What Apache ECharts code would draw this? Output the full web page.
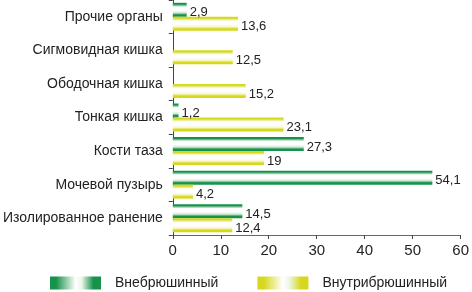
<!DOCTYPE html>
<html>
<head>
<meta charset="utf-8">
<script src="https://cdn.jsdelivr.net/npm/echarts@6/dist/echarts.min.js"></script>
<style>
  html, body { margin: 0; padding: 0; background: #fff; }
  #chart { width: 472px; height: 292px; }
</style>
</head>
<body>
<div id="chart"></div>
<script>
// категории сверху вниз
const categories = ['Прочие органы', 'Сигмовидная кишка', 'Ободочная кишка', 'Тонкая кишка', 'Кости таза', 'Мочевой пузырь', 'Изолированное ранение'];
const extraValues = [2.9, null, null, 1.2, 27.3, 54.1, 14.5];   // Внебрюшинный
const intraValues = [13.6, 12.5, 15.2, 23.1, 19, 4.2, 12.4];     // Внутрибрюшинный
const seriesNames = ['Внебрюшинный', 'Внутрибрюшинный'];
const xTicks = [0, 10, 20, 30, 40, 50, 60];

const FONT = '"Liberation Sans", Arial, sans-serif';
const GREEN = '#17924a';
const YELLOW = '#d6d81c';

// цилиндрическая заливка столбика (сверху вниз)
function barGrad(c, light) {
    return new echarts.graphic.LinearGradient(0, 0, 0, 1, [
        {offset: 0, color: c},
        {offset: 0.1, color: c},
        {offset: 0.3, color: '#ffffff'},
        {offset: 0.55, color: '#ffffff'},
        {offset: 0.72, color: light},
        {offset: 0.86, color: c},
        {offset: 1, color: c}
    ]);
}
// значок легенды (слева направо)
function legendGrad(c) {
    return new echarts.graphic.LinearGradient(0, 0, 1, 0, [
        {offset: 0, color: c},
        {offset: 0.12, color: c},
        {offset: 0.5, color: '#ffffff'},
        {offset: 0.62, color: '#eef6e8'},
        {offset: 0.85, color: c},
        {offset: 1, color: c}
    ]);
}

let labelFmt = function (p) {
    return String(p.value).replace('.', ',');
};

let myChart = echarts.init(document.getElementById('chart'));
let option = {
    animation: false,
    textStyle: {fontFamily: FONT},
    grid: {left: 169, right: 7, top: 0, bottom: 57},
    legend: {
        top: 271,
        left: 45,
        itemWidth: 51,
        itemHeight: 13,
        itemGap: 39,
        icon: 'rect',
        textStyle: {fontFamily: FONT, fontSize: 14, color: '#222', padding: [0, 0, 0, 9]},
        data: [
            {name: seriesNames[0], itemStyle: {color: legendGrad(GREEN)}},
            {name: seriesNames[1], itemStyle: {color: legendGrad(YELLOW)}}
        ]
    },
    xAxis: {
        type: 'value',
        min: xTicks[0],
        max: xTicks[xTicks.length - 1],
        interval: 10,
        splitLine: {show: false},
        axisLine: {show: true, lineStyle: {color: '#666', width: 1}},
        axisTick: {show: true, length: 4, lineStyle: {color: '#444'}},
        axisLabel: {fontFamily: FONT, fontSize: 15, color: '#222', margin: 8}
    },
    yAxis: {
        type: 'category',
        inverse: true,
        data: categories,
        axisLine: {lineStyle: {color: '#444', width: 1}},
        axisTick: {show: true, length: 4, lineStyle: {color: '#444'}},
        axisLabel: {fontFamily: FONT, fontSize: 14, color: '#222', margin: 10}
    },
    series: [
        {
            name: seriesNames[0],
            type: 'bar',
            data: extraValues,
            barWidth: 14,
            barGap: '0%',
            itemStyle: {color: barGrad(GREEN, '#cfe8d4')},
            label: {show: true, position: 'right', distance: 3, offset: [0, 3], formatter: labelFmt,
                fontFamily: FONT, fontSize: 13, color: '#222'}
        },
        {
            name: seriesNames[1],
            type: 'bar',
            data: intraValues,
            barWidth: 14,
            barGap: '0%',
            itemStyle: {color: barGrad(YELLOW, '#f6f6c8')},
            label: {show: true, position: 'right', distance: 3, offset: [0, 3], formatter: labelFmt,
                fontFamily: FONT, fontSize: 13, color: '#222'}
        }
    ]
};
myChart.setOption(option);
</script>
</body>
</html>
